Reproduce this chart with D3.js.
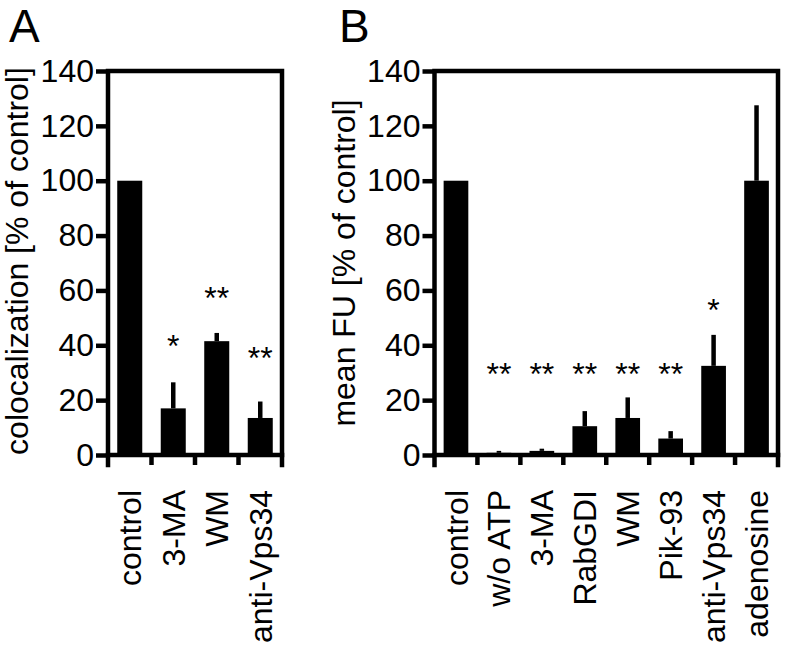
<!DOCTYPE html>
<html>
<head>
<meta charset="utf-8">
<script src="https://cdn.jsdelivr.net/npm/d3@7"></script>
<style>
  html, body { margin: 0; padding: 0; background: #fff; }
  svg { display: block; }
  text { font-family: "Liberation Sans", Arial, Helvetica, sans-serif; fill: #000; }
</style>
</head>
<body>
<svg id="chart" width="787" height="651"></svg>
<script>
// ---------- data ----------
const yTicks = [0, 20, 40, 60, 80, 100, 120, 140];

const categoriesA = ["control", "3-MA", "WM", "anti-Vps34"];
const meansA      = [100, 17, 41.5, 13.5];
const errorsA     = [0, 9.5, 3, 6];
const starsA      = ["", "*", "**", "**"];
const starLevelA  = [0, 42.6, 60.1, 38.3];

const categoriesB = ["control", "w/o ATP", "3-MA", "RabGDI", "WM", "Pik-93", "anti-Vps34", "adenosine"];
const meansB      = [100, 0.8, 1.5, 10.5, 13.5, 6, 32.5, 100];
const errorsB     = [0, 0.7, 0.8, 5.5, 7.5, 2.7, 11.3, 27.5];
const starsB      = ["", "**", "**", "**", "**", "**", "*", ""];
const starLevelB  = [0, 32.2, 32.2, 32.2, 32.2, 32.2, 55.6, 0];

const titleA = "colocalization [% of control]";
const titleB = "mean FU [% of control]";

// ---------- layout ----------
const svg = d3.select("#chart");
const yTop = 71, yBottom = 455;
const lw = 4.5;
const fontSize = 32;
const y = d3.scaleLinear().domain([0, 140]).range([yBottom, yTop]);

function panel(opts) {
  const { cats, means, errs, stars, starLevels, x0, x1, title, titleX, titleY, letter, letterX } = opts;
  const g = svg.append("g");
  const x = d3.scaleBand().domain(cats).range([x0, x1]).padding(0);
  const barW = x.bandwidth() * 0.575;

  // bars
  g.selectAll("rect.bar").data(cats).join("rect")
    .attr("class", "bar")
    .attr("x", (d) => x(d) + (x.bandwidth() - barW) / 2)
    .attr("width", barW)
    .attr("y", (d, i) => y(means[i]))
    .attr("height", (d, i) => y(0) - y(means[i]))
    .attr("fill", "#000");

  // error bars (upper only)
  g.selectAll("line.err").data(cats.filter((d, i) => errs[i] > 0)).join("line")
    .attr("class", "err")
    .attr("x1", (d) => x(d) + x.bandwidth() / 2)
    .attr("x2", (d) => x(d) + x.bandwidth() / 2)
    .attr("y1", (d) => y(means[cats.indexOf(d)]))
    .attr("y2", (d) => { const i = cats.indexOf(d); return y(means[i] + errs[i]); })
    .attr("stroke", "#000").attr("stroke-width", lw);

  // y axis
  const yAxis = d3.axisLeft(y).tickValues(yTicks).tickSize(12).tickSizeOuter(0).tickPadding(2);
  const ya = g.append("g").attr("transform", `translate(${x0},0)`).call(yAxis);
  ya.select(".domain").remove();
  ya.selectAll(".tick line").attr("stroke", "#000").attr("stroke-width", lw);
  ya.selectAll(".tick text").style("font-size", fontSize + "px").attr("fill", "#000");

  // frame
  g.append("path")
    .attr("d", `M${x0},${y(0) + 10}V${y(140)}H${x1}V${y(0) + 10}`)
    .attr("fill", "none").attr("stroke", "#000").attr("stroke-width", lw)
    .attr("stroke-linejoin", "miter").attr("stroke-linecap", "square");
  g.append("line")
    .attr("x1", x0 - lw / 2).attr("x2", x1 + lw / 2)
    .attr("y1", y(0)).attr("y2", y(0))
    .attr("stroke", "#000").attr("stroke-width", lw);

  // x ticks at category boundaries
  const bounds = cats.map((d) => x(d)).concat([x1]);
  g.selectAll("line.xt").data(bounds.slice(1, -1)).join("line")
    .attr("class", "xt")
    .attr("x1", (d) => d).attr("x2", (d) => d)
    .attr("y1", y(0)).attr("y2", y(0) + 10)
    .attr("stroke", "#000").attr("stroke-width", lw);

  // x labels
  g.selectAll("text.xl").data(cats).join("text")
    .attr("class", "xl")
    .attr("transform", (d) => `translate(${x(d) + x.bandwidth() / 2},${y(0) + 35}) rotate(-90)`)
    .attr("text-anchor", "end")
    .attr("dy", "0.36em")
    .style("font-size", fontSize + "px")
    .text((d) => d);

  // significance stars
  g.selectAll("text.star").data(cats.filter((d, i) => stars[i])).join("text")
    .attr("class", "star")
    .attr("x", (d) => x(d) + x.bandwidth() / 2)
    .attr("y", (d) => y(starLevels[cats.indexOf(d)]) + 0.58 * fontSize)
    .attr("text-anchor", "middle")
    .style("font-size", fontSize + "px")
    .text((d) => stars[cats.indexOf(d)]);

  // y title
  g.append("text")
    .attr("transform", `translate(${titleX},${titleY}) rotate(-90)`)
    .attr("text-anchor", "middle")
    .style("font-size", fontSize + "px")
    .text(title);

  // panel letter
  g.append("text")
    .attr("x", letterX).attr("y", 42)
    .style("font-size", "46px")
    .text(letter);
}

panel({ cats: categoriesA, means: meansA, errs: errorsA, stars: starsA, starLevels: starLevelA,
        x0: 108, x1: 282, title: titleA, titleX: 28, titleY: 261, letter: "A", letterX: 9 });
panel({ cats: categoriesB, means: meansB, errs: errorsB, stars: starsB, starLevels: starLevelB,
        x0: 434.5, x1: 778, title: titleB, titleX: 355, titleY: 263, letter: "B", letterX: 339 });
</script>
</body>
</html>
